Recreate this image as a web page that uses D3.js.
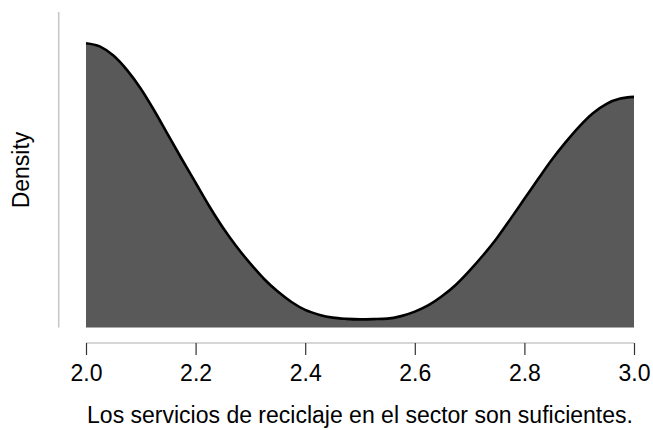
<!DOCTYPE html>
<html>
<head>
<meta charset="utf-8">
<script src="https://cdn.jsdelivr.net/npm/d3@7"></script>
<style>
  body { margin: 0; background: #fff; }
  svg text { font-family: "Liberation Sans", Arial, sans-serif; fill: #000; }
</style>
</head>
<body>
<svg width="653" height="430"></svg>
<script>
var xVals = [2.000, 2.025, 2.050, 2.075, 2.100, 2.125, 2.150, 2.175, 2.200, 2.225, 2.250,
             2.275, 2.300, 2.325, 2.350, 2.375, 2.400, 2.425, 2.450, 2.475, 2.500,
             2.525, 2.550, 2.575, 2.600, 2.625, 2.650, 2.675, 2.700, 2.725, 2.750,
             2.775, 2.800, 2.825, 2.850, 2.875, 2.900, 2.925, 2.950, 2.975, 3.000];
var densVals = [1.149, 1.136, 1.099, 1.040, 0.965, 0.875, 0.777, 0.680, 0.585, 0.490, 0.403,
                0.326, 0.258, 0.196, 0.145, 0.103, 0.071, 0.052, 0.040, 0.035, 0.033,
                0.034, 0.036, 0.046, 0.064, 0.090, 0.127, 0.173, 0.230, 0.293, 0.362,
                0.440, 0.520, 0.600, 0.678, 0.748, 0.812, 0.866, 0.904, 0.925, 0.932];
var xTicks = [2.0, 2.2, 2.4, 2.6, 2.8, 3.0];
var xLabel = "Los servicios de reciclaje en el sector son suficientes.";
var yLabel = "Density";

var svg = d3.select("svg");

var x = d3.scaleLinear().domain([2, 3]).range([86, 634]);
var y = d3.scaleLinear().domain([0, 1.275]).range([327.5, 12]);

var data = xVals.map((d, i) => ({x: d, y: densVals[i]}));

//area
var area = d3.area()
  .x(d => x(d.x))
  .y0(y(0))
  .y1(d => y(d.y))
  .curve(d3.curveMonotoneX);

var line = d3.line()
  .x(d => x(d.x))
  .y(d => y(d.y))
  .curve(d3.curveMonotoneX);

svg.append("path")
  .datum(data)
  .attr("d", area)
  .attr("fill", "#595959");

svg.append("path")
  .datum(data)
  .attr("d", line)
  .attr("fill", "none")
  .attr("stroke", "#000")
  .attr("stroke-width", 2.6);

//eje y (sin marcas)
svg.append("line")
  .attr("x1", 58.7).attr("x2", 58.7)
  .attr("y1", y(1.275)).attr("y2", y(0))
  .attr("stroke", "#c8c8c8")
  .attr("stroke-width", 1.6);

//eje x
var xAxis = svg.append("g")
  .attr("transform", "translate(0,343)")
  .call(d3.axisBottom(x).tickValues(xTicks).tickFormat(d3.format(".1f")).tickSize(12).tickPadding(10));

xAxis.select(".domain")
  .attr("d", `M${x(2)},0H${x(3)}`)
  .attr("stroke", "#c8c8c8")
  .attr("stroke-width", 1.6);
xAxis.selectAll(".tick line")
  .attr("stroke", "#333")
  .attr("stroke-width", 1.2);
xAxis.selectAll(".tick text")
  .attr("font-size", 23)
  .attr("font-family", "Liberation Sans, Arial, sans-serif")
  .attr("fill", "#000");

svg.append("text")
  .attr("x", 360)
  .attr("y", 423)
  .attr("text-anchor", "middle")
  .attr("font-size", 23)
  .text(xLabel);

svg.append("text")
  .attr("transform", "translate(29,170) rotate(-90)")
  .attr("text-anchor", "middle")
  .attr("font-size", 23)
  .text(yLabel);
</script>
</body>
</html>
